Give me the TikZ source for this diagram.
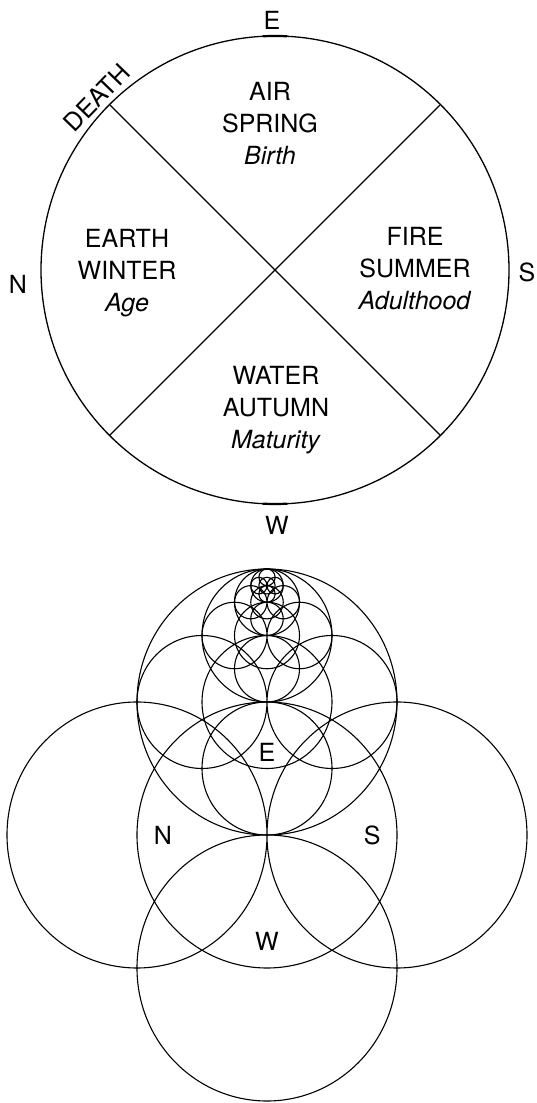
\documentclass[tikz,border=0pt]{standalone}
\usepackage{fontspec}
\setmainfont{TeX Gyre Heros}
\begin{document}
\begin{tikzpicture}[x=1pt, y=1pt, line width=1.3pt,
  font=\fontsize{25}{32}\selectfont,
  quarter/.style={align=center, inner sep=0pt},
  point/.style={inner sep=0pt}]
\useasboundingbox (0,0) rectangle (536,1103);
% wheel of the elements
\node[circle, draw, minimum size=468pt, inner sep=0pt, outer sep=0pt] (wheel) at (275,833) {};
\draw (wheel.135) -- (wheel.-45);
\draw (wheel.45) -- (wheel.-135);
\draw[line width=2.2pt] (wheel.87) arc[start angle=87, end angle=93, radius=234pt];
\draw[line width=2.2pt] (wheel.-93) arc[start angle=-93, end angle=-87, radius=234pt];
\node[quarter] (air) at (270,980) {AIR\\SPRING\\\textit{Birth}};
\node[quarter] (earth) at (127,830) {EARTH\\WINTER\\\textit{Age}};
\node[quarter] (fire) at (415,834) {FIRE\\SUMMER\\\textit{Adulthood}};
\node[quarter] (water) at (276,693) {WATER\\AUTUMN\\\textit{Maturity}};
\node[point] (e) at (272,1083) {E};
\node[point] (n) at (18,819) {N};
\node[point] (s) at (527,831) {S};
\node[point] (w) at (277,578) {W};
\node[point, rotate=46, anchor=south, inner sep=4pt] (death) at (wheel.136) {DEATH};
% circles within circles
\begin{scope}[shift={(267,268)}, x=130pt, y=133pt, line width=1.1pt]
\foreach \k in {0,...,4} {
  \pgfmathsetmacro\r{2^(-\k)}
  \pgfmathsetmacro\o{2-2*\r}
  \draw (0,\o) circle (\r) (-\r,\o) circle (\r) (\r,\o) circle (\r)
        (0,\o+\r) circle (\r) (0,\o-\r) circle (\r);
}
\node[point] (east) at (0,0.62) {E};
\node[point] (north) at (-0.8,0) {N};
\node[point] (south) at (0.81,0) {S};
\node[point] (west) at (0,-0.8) {W};
\end{scope}
\end{tikzpicture}
\end{document}
